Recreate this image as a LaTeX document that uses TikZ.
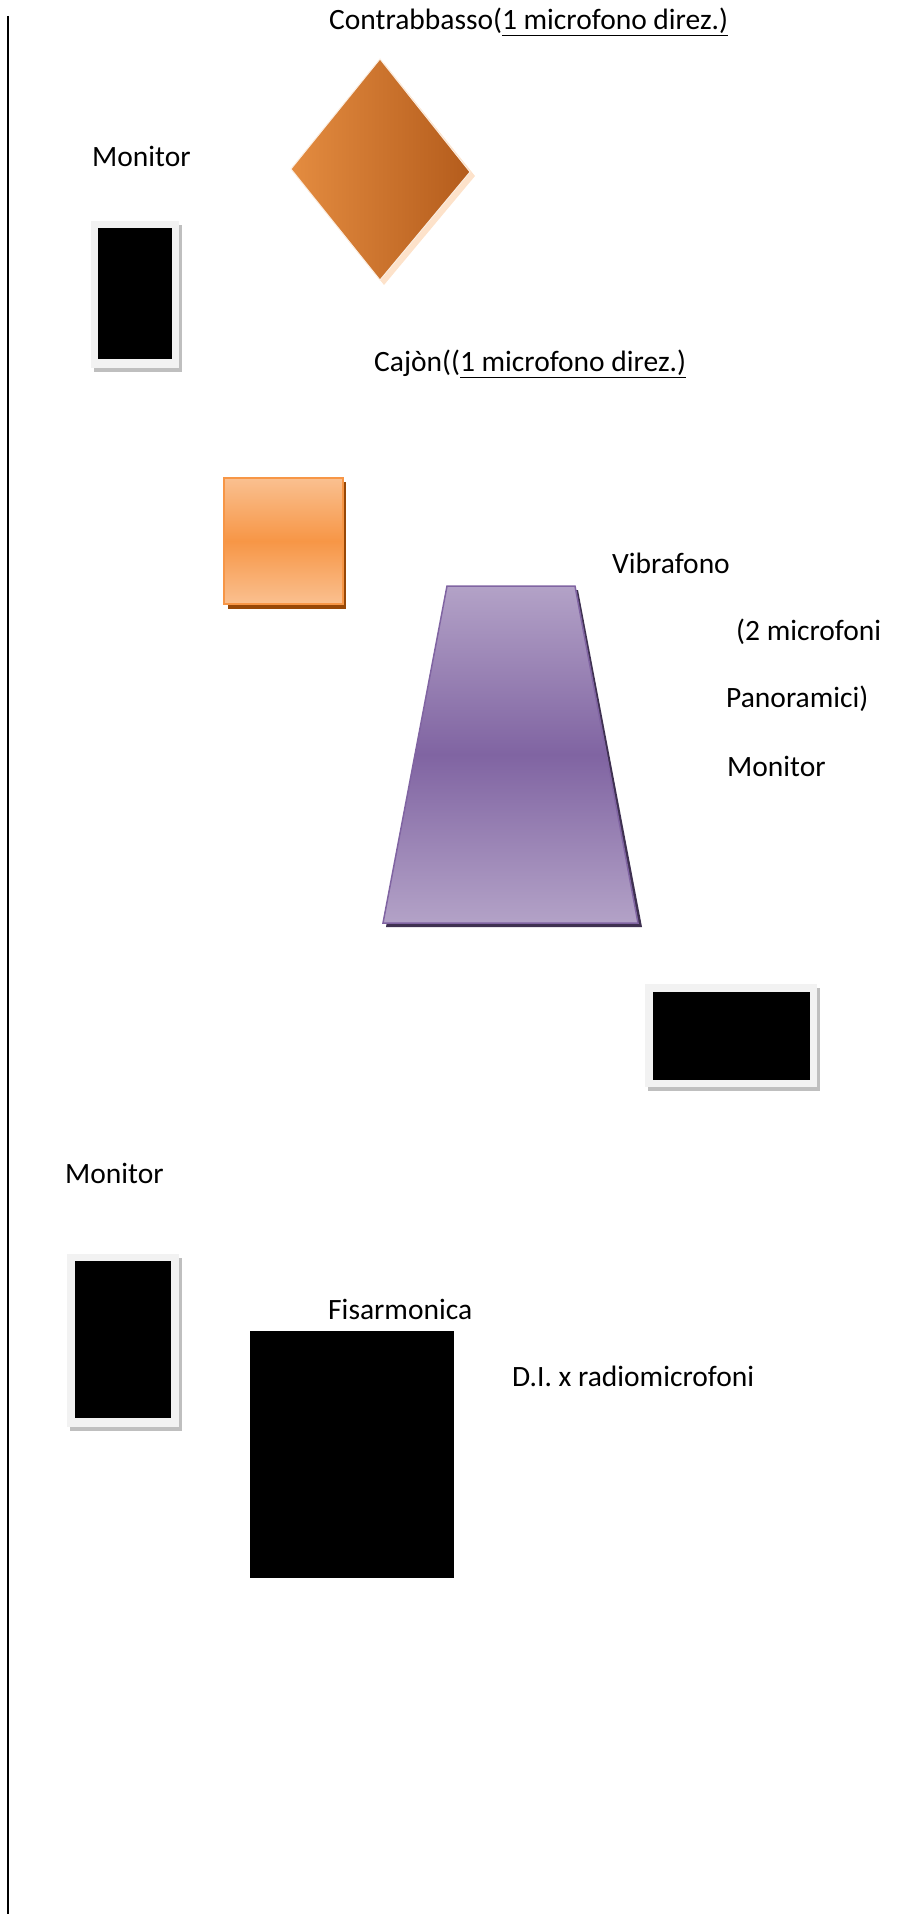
\documentclass[tikz,border=0pt]{standalone}
\usepackage{fontspec}
\setmainfont{Carlito}
\definecolor{peach}{HTML}{FDE2CA}
\definecolor{dOrangeA}{HTML}{E48C40}
\definecolor{dOrangeB}{HTML}{B45C1C}
\definecolor{sqLight}{HTML}{FAC090}
\definecolor{sqMid}{HTML}{F79646}
\definecolor{sqShadow}{HTML}{984807}
\definecolor{vLight}{HTML}{B3A2C7}
\definecolor{vMid}{HTML}{8064A2}
\definecolor{vShadow}{HTML}{3F3151}
\definecolor{frameGray}{HTML}{F2F2F2}
\definecolor{shadowGray}{HTML}{BFBFBF}
\begin{document}
\begin{tikzpicture}[x=1pt,y=-1pt,
  lbl/.style={anchor=west,inner sep=0pt,font=\fontsize{29.5}{35}\selectfont},
  monframe/.style={fill=frameGray},
  monshadow/.style={fill=shadowGray},
  monscreen/.style={fill=black}]
\useasboundingbox (0,0) rectangle (898,1924);
% left border line
\draw[line width=2pt] (8,16) -- (8,1914);

% texts
\node[lbl] (tContr) at (329,22) {Contrabbasso(\underline{1 microfono direz.)}};
\node[lbl] (tMon1) at (92,156) {Monitor};
\node[lbl] (tCajon) at (374,364) {Cajòn((\underline{1 microfono direz.)}};
\node[lbl] (tVib) at (612,563) {Vibrafono};
\node[lbl] (tMic2) at (736,632) {(2 microfoni};
\node[lbl] (tPan) at (726,699) {Panoramici)};
\node[lbl] (tMon2) at (727,766) {Monitor};
\node[lbl] (tMon3) at (65,1173) {Monitor};
\node[lbl] (tFis) at (328,1309) {Fisarmonica};
\node[lbl] (tDI) at (512,1376) {D.I. x radiomicrofoni};

% diamond (Contrabbasso)
\fill[peach] (384,63) -- (475,176) -- (384,285) -- (295,173) -- cycle;
\shade[shading angle=-45, left color=dOrangeA, right color=dOrangeB, draw=white!85!dOrangeA, line width=1pt]
  (380,59) -- (470,172) -- (380,280) -- (291,169) -- cycle;

% monitor 1
\fill[monshadow] (94,225) rectangle (182,372);
\fill[monframe] (91,221) rectangle (179,368);
\fill[monscreen] (98,228) rectangle (172,359);

% orange square (Cajon)
\fill[sqShadow] (228,482) rectangle (346,609);
\shade[top color=sqLight, bottom color=sqLight, middle color=sqMid, draw=sqMid, line width=1.5pt]
  (224,478) rectangle (343,604);

% trapezoid (Vibrafono)
\fill[vShadow] (450,590) -- (578,590) -- (642,927) -- (386,927) -- cycle;
\shade[top color=vLight, bottom color=vLight, middle color=vMid, draw=vMid, line width=1.5pt]
  (447,586) -- (575,586) -- (638,923) -- (383,923) -- cycle;

% monitor 2 (horizontal)
\fill[monshadow] (648,988) rectangle (820,1091);
\fill[monframe] (645,984) rectangle (817,1087);
\fill[monscreen] (653,992) rectangle (810,1080);

% monitor 3
\fill[monshadow] (70,1258) rectangle (182,1431);
\fill[monframe] (67,1254) rectangle (179,1427);
\fill[monscreen] (75,1261) rectangle (171,1418);

% Fisarmonica block
\fill[black] (250,1331) rectangle (454,1578);
\end{tikzpicture}
\end{document}
